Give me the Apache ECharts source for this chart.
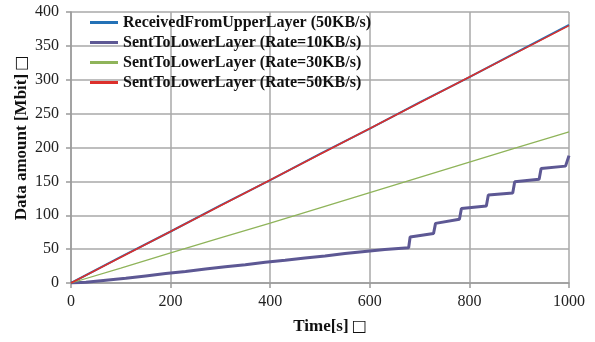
<!DOCTYPE html>
<html>
<head>
<meta charset="utf-8">
<script src="https://cdn.jsdelivr.net/npm/echarts@6/dist/echarts.min.js"></script>
<style>
  html, body { margin: 0; padding: 0; background: #fff; }
  #chart { width: 595px; height: 342px; }
</style>
</head>
<body>
<div id="chart"></div>
<script>
// series names as in the legend
const seriesNames = [
  'ReceivedFromUpperLayer (50KB/s)',
  'SentToLowerLayer (Rate=10KB/s)',
  'SentToLowerLayer (Rate=30KB/s)',
  'SentToLowerLayer (Rate=50KB/s)'
]

// [time s, Mbit]
const received50 = [[0, 0], [100, 38.5], [200, 76], [300, 114.5], [400, 152], [500, 190.5], [600, 228], [700, 266.5], [800, 304], [900, 342.5], [1000, 381]]
const sent10 = [
  [0, 0], [30, 1], [32, 3], [70, 4], [72, 6], [110, 7], [112, 9], [150, 10.5], [152, 12.5],
  [190, 14], [192, 16], [230, 17], [232, 19], [270, 20.5], [272, 22.5], [310, 24], [312, 26],
  [350, 27], [352, 29], [390, 30.5], [392, 32.5], [430, 33.5], [432, 35.5], [470, 37], [472, 39],
  [510, 40], [512, 42], [550, 43.5], [552, 45.5], [590, 46.5], [592, 48.5], [630, 49.5], [632, 50.5],
  [678, 52], [681, 68], [728, 73], [732, 88], [780, 94], [784, 110], [834, 113.5], [838, 130],
  [887, 133], [891, 149.5], [940, 153], [944, 169], [993, 172.5], [1000, 188]
]
const sent30 = [[0, 0], [100, 22], [200, 44.5], [300, 66.5], [400, 88.5], [500, 111], [600, 133.5], [700, 156], [800, 178.5], [900, 201], [1000, 223]]
const sent50 = [[0, 0], [100, 38], [200, 76], [300, 114], [400, 152], [500, 190], [600, 228], [700, 266], [800, 304], [900, 342], [1000, 380]]

const xTitle = 'Time[s]'
const yTitle = 'Data amount [Mbit]'
const boxGlyph = '\u25A1'

const seriesData = [received50, sent10, sent30, sent50]
const seriesColors = ['#2371b6', '#5d5894', '#8fb45a', '#dc2f2b']
const seriesWidths = [2, 3, 1.3, 1.5]

const chart = echarts.init(document.getElementById('chart'))

const axisFont = { fontFamily: 'Liberation Serif', fontSize: 16, color: '#222' }
const titleRich = {
  t: { fontFamily: 'Liberation Serif', fontSize: 17, fontWeight: 'bold', fill: '#111' },
  b: { fontFamily: 'DejaVu Sans', fontSize: 16, fill: '#111', padding: [0, 0, 0, 3] }
}

chart.setOption({
  animation: false,
  backgroundColor: '#fff',
  grid: { left: 71, right: 26, top: 12, bottom: 59 },
  legend: {
    orient: 'vertical',
    left: 85,
    top: 9,
    itemGap: 3,
    itemWidth: 28,
    itemHeight: 3,
    icon: 'rect',
    textStyle: { fontFamily: 'Liberation Serif', fontSize: 16, fontWeight: 'bold', color: '#111', lineHeight: 17 },
    data: seriesNames
  },
  xAxis: {
    type: 'value',
    min: 0,
    max: 1000,
    interval: 200,
    axisLine: { show: true, lineStyle: { color: '#9a9a9a', width: 1.5 } },
    axisTick: { show: true, length: 5, lineStyle: { color: '#9a9a9a', width: 1.5 } },
    axisLabel: Object.assign({ margin: 11, formatter: v => String(v) }, axisFont),
    splitLine: { show: true, lineStyle: { color: '#a8a8a8', width: 1.5 } }
  },
  yAxis: {
    type: 'value',
    min: 0,
    max: 400,
    interval: 50,
    axisLine: { show: true, lineStyle: { color: '#9a9a9a', width: 1.5 } },
    axisTick: { show: true, length: 5, lineStyle: { color: '#9a9a9a', width: 1.5 } },
    axisLabel: Object.assign({ margin: 12 }, axisFont),
    splitLine: { show: true, lineStyle: { color: '#a8a8a8', width: 1.5 } }
  },
  graphic: [
    {
      type: 'text',
      x: 330,
      y: 327,
      style: {
        text: '{t|' + xTitle + '}{b|' + boxGlyph + '}',
        rich: titleRich,
        align: 'center',
        verticalAlign: 'middle'
      }
    },
    {
      type: 'text',
      x: 22,
      y: 138,
      rotation: Math.PI / 2,
      style: {
        text: '{t|' + yTitle + '}{b|' + boxGlyph + '}',
        rich: titleRich,
        align: 'center',
        verticalAlign: 'middle'
      }
    }
  ],
  series: seriesNames.map((name, i) => ({
    name,
    type: 'line',
    data: seriesData[i],
    symbol: 'none',
    showSymbol: false,
    color: seriesColors[i],
    lineStyle: { color: seriesColors[i], width: seriesWidths[i] },
    z: i === 0 ? 2 : 3
  }))
})
</script>
</body>
</html>
